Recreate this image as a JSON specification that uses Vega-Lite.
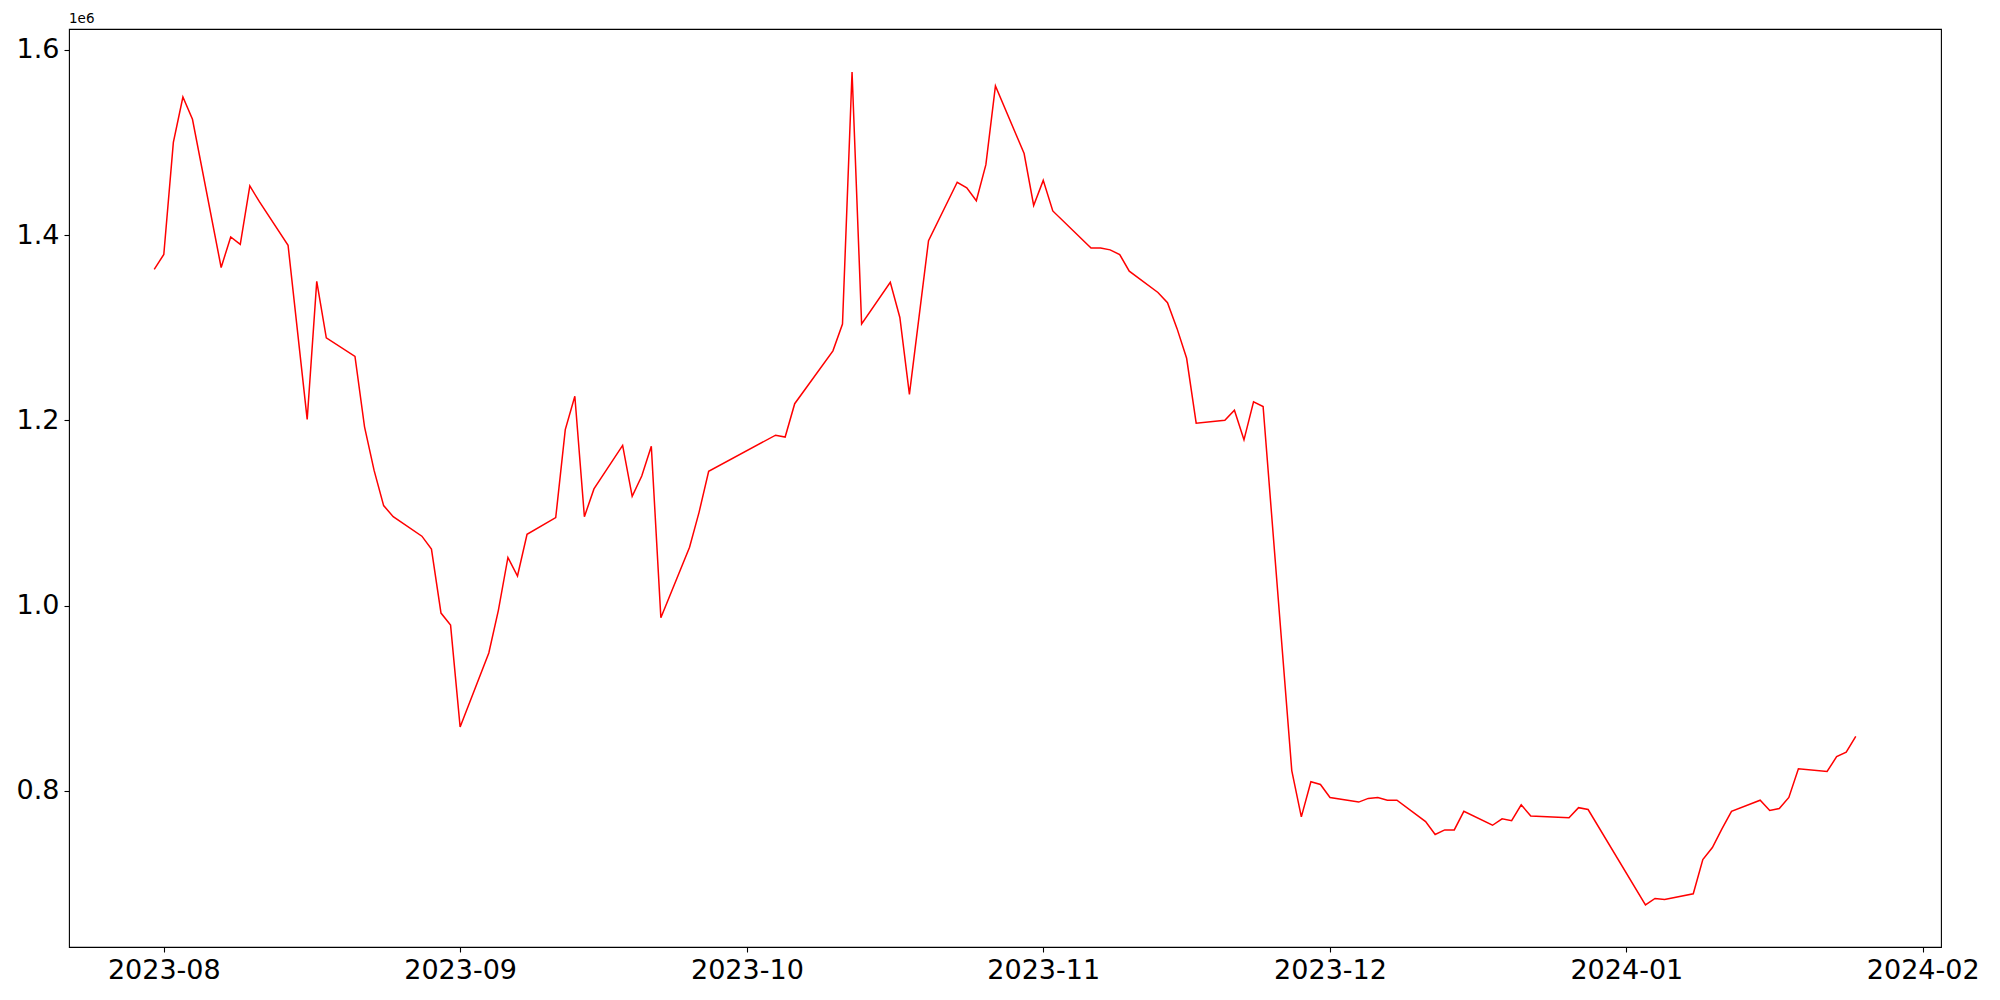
{
  "$schema": "https://vega.github.io/schema/vega-lite/v6.json",
  "width": 1872,
  "height": 918,
  "autosize": {"type": "none"},
  "padding": {"left": 69, "top": 29, "right": 59, "bottom": 53},
  "background": "white",
  "config": {
    "view": {"stroke": "black", "strokeWidth": 1.1},
    "font": "DejaVu Sans",
    "axis": {
      "domain": false,
      "grid": false,
      "ticks": true,
      "tickSize": 5,
      "tickColor": "black",
      "tickWidth": 1.1,
      "labelFont": "DejaVu Sans",
      "labelFontSize": 27,
      "labelColor": "black",
      "labelPadding": 5,
      "title": null
    }
  },
  "title": {
    "text": "1e6",
    "anchor": "start",
    "frame": "group",
    "font": "DejaVu Sans",
    "fontSize": 13.5,
    "fontWeight": "normal",
    "color": "black",
    "offset": 4
  },
  "data": {
    "values": [
      {"date": "2023-07-31", "value": 1363000},
      {"date": "2023-08-01", "value": 1379000},
      {"date": "2023-08-02", "value": 1500000},
      {"date": "2023-08-03", "value": 1549000},
      {"date": "2023-08-04", "value": 1525000},
      {"date": "2023-08-07", "value": 1365000},
      {"date": "2023-08-08", "value": 1398000},
      {"date": "2023-08-09", "value": 1390000},
      {"date": "2023-08-10", "value": 1453000},
      {"date": "2023-08-11", "value": 1436000},
      {"date": "2023-08-14", "value": 1389000},
      {"date": "2023-08-16", "value": 1201000},
      {"date": "2023-08-17", "value": 1350000},
      {"date": "2023-08-18", "value": 1289000},
      {"date": "2023-08-21", "value": 1269000},
      {"date": "2023-08-22", "value": 1193000},
      {"date": "2023-08-23", "value": 1146000},
      {"date": "2023-08-24", "value": 1108000},
      {"date": "2023-08-25", "value": 1096000},
      {"date": "2023-08-28", "value": 1075000},
      {"date": "2023-08-29", "value": 1061000},
      {"date": "2023-08-30", "value": 992000},
      {"date": "2023-08-31", "value": 979000},
      {"date": "2023-09-01", "value": 869000},
      {"date": "2023-09-04", "value": 949000},
      {"date": "2023-09-05", "value": 995000},
      {"date": "2023-09-06", "value": 1052000},
      {"date": "2023-09-07", "value": 1032000},
      {"date": "2023-09-08", "value": 1077000},
      {"date": "2023-09-11", "value": 1095000},
      {"date": "2023-09-12", "value": 1190000},
      {"date": "2023-09-13", "value": 1226000},
      {"date": "2023-09-14", "value": 1096000},
      {"date": "2023-09-15", "value": 1126000},
      {"date": "2023-09-18", "value": 1173000},
      {"date": "2023-09-19", "value": 1118000},
      {"date": "2023-09-20", "value": 1140000},
      {"date": "2023-09-21", "value": 1172000},
      {"date": "2023-09-22", "value": 987000},
      {"date": "2023-09-25", "value": 1063000},
      {"date": "2023-09-26", "value": 1101000},
      {"date": "2023-09-27", "value": 1145000},
      {"date": "2023-10-04", "value": 1184000},
      {"date": "2023-10-05", "value": 1182000},
      {"date": "2023-10-06", "value": 1218000},
      {"date": "2023-10-10", "value": 1275000},
      {"date": "2023-10-11", "value": 1304000},
      {"date": "2023-10-12", "value": 1576000},
      {"date": "2023-10-13", "value": 1304000},
      {"date": "2023-10-16", "value": 1349000},
      {"date": "2023-10-17", "value": 1311000},
      {"date": "2023-10-18", "value": 1228000},
      {"date": "2023-10-20", "value": 1394000},
      {"date": "2023-10-23", "value": 1457000},
      {"date": "2023-10-24", "value": 1451000},
      {"date": "2023-10-25", "value": 1437000},
      {"date": "2023-10-26", "value": 1476000},
      {"date": "2023-10-27", "value": 1561000},
      {"date": "2023-10-30", "value": 1488000},
      {"date": "2023-10-31", "value": 1432000},
      {"date": "2023-11-01", "value": 1459000},
      {"date": "2023-11-02", "value": 1426000},
      {"date": "2023-11-06", "value": 1386000},
      {"date": "2023-11-07", "value": 1386000},
      {"date": "2023-11-08", "value": 1384000},
      {"date": "2023-11-09", "value": 1379000},
      {"date": "2023-11-10", "value": 1361000},
      {"date": "2023-11-13", "value": 1338000},
      {"date": "2023-11-14", "value": 1327000},
      {"date": "2023-11-15", "value": 1299000},
      {"date": "2023-11-16", "value": 1267000},
      {"date": "2023-11-17", "value": 1197000},
      {"date": "2023-11-20", "value": 1200000},
      {"date": "2023-11-21", "value": 1211000},
      {"date": "2023-11-22", "value": 1179000},
      {"date": "2023-11-23", "value": 1220000},
      {"date": "2023-11-24", "value": 1215000},
      {"date": "2023-11-27", "value": 822000},
      {"date": "2023-11-28", "value": 772000},
      {"date": "2023-11-29", "value": 810000},
      {"date": "2023-11-30", "value": 807000},
      {"date": "2023-12-01", "value": 793000},
      {"date": "2023-12-04", "value": 788000},
      {"date": "2023-12-05", "value": 792000},
      {"date": "2023-12-06", "value": 793000},
      {"date": "2023-12-07", "value": 790000},
      {"date": "2023-12-08", "value": 790000},
      {"date": "2023-12-11", "value": 767000},
      {"date": "2023-12-12", "value": 753000},
      {"date": "2023-12-13", "value": 758000},
      {"date": "2023-12-14", "value": 758000},
      {"date": "2023-12-15", "value": 778000},
      {"date": "2023-12-18", "value": 763000},
      {"date": "2023-12-19", "value": 770000},
      {"date": "2023-12-20", "value": 768000},
      {"date": "2023-12-21", "value": 785000},
      {"date": "2023-12-22", "value": 773000},
      {"date": "2023-12-26", "value": 771000},
      {"date": "2023-12-27", "value": 782000},
      {"date": "2023-12-28", "value": 780000},
      {"date": "2024-01-03", "value": 677000},
      {"date": "2024-01-04", "value": 684000},
      {"date": "2024-01-05", "value": 683000},
      {"date": "2024-01-08", "value": 689000},
      {"date": "2024-01-09", "value": 726000},
      {"date": "2024-01-10", "value": 739000},
      {"date": "2024-01-11", "value": 759000},
      {"date": "2024-01-12", "value": 778000},
      {"date": "2024-01-15", "value": 790000},
      {"date": "2024-01-16", "value": 779000},
      {"date": "2024-01-17", "value": 781000},
      {"date": "2024-01-18", "value": 793000},
      {"date": "2024-01-19", "value": 824000},
      {"date": "2024-01-22", "value": 821000},
      {"date": "2024-01-23", "value": 837000},
      {"date": "2024-01-24", "value": 842000},
      {"date": "2024-01-25", "value": 859000}
    ]
  },
  "mark": {"type": "line", "color": "#ff0000", "strokeWidth": 1.5},
  "encoding": {
    "x": {
      "field": "date",
      "type": "temporal",
      "scale": {
        "type": "utc",
        "domain": [
          {"year": 2023, "month": 7, "date": 22, "hours": 2, "utc": true},
          {"year": 2024, "month": 2, "date": 2, "hours": 22, "utc": true}
        ]
      },
      "axis": {
        "values": [
          {"year": 2023, "month": 8, "date": 1, "utc": true},
          {"year": 2023, "month": 9, "date": 1, "utc": true},
          {"year": 2023, "month": 10, "date": 1, "utc": true},
          {"year": 2023, "month": 11, "date": 1, "utc": true},
          {"year": 2023, "month": 12, "date": 1, "utc": true},
          {"year": 2024, "month": 1, "date": 1, "utc": true},
          {"year": 2024, "month": 2, "date": 1, "utc": true}
        ],
        "labelExpr": "utcFormat(datum.value, '%Y-%m')",
        "labelFlush": false,
        "labelOverlap": false
      }
    },
    "y": {
      "field": "value",
      "type": "quantitative",
      "scale": {"domain": [631600, 1622400], "zero": false, "nice": false},
      "axis": {
        "values": [800000, 1000000, 1200000, 1400000, 1600000],
        "labelExpr": "format(datum.value / 1000000, '.1f')"
      }
    }
  }
}
